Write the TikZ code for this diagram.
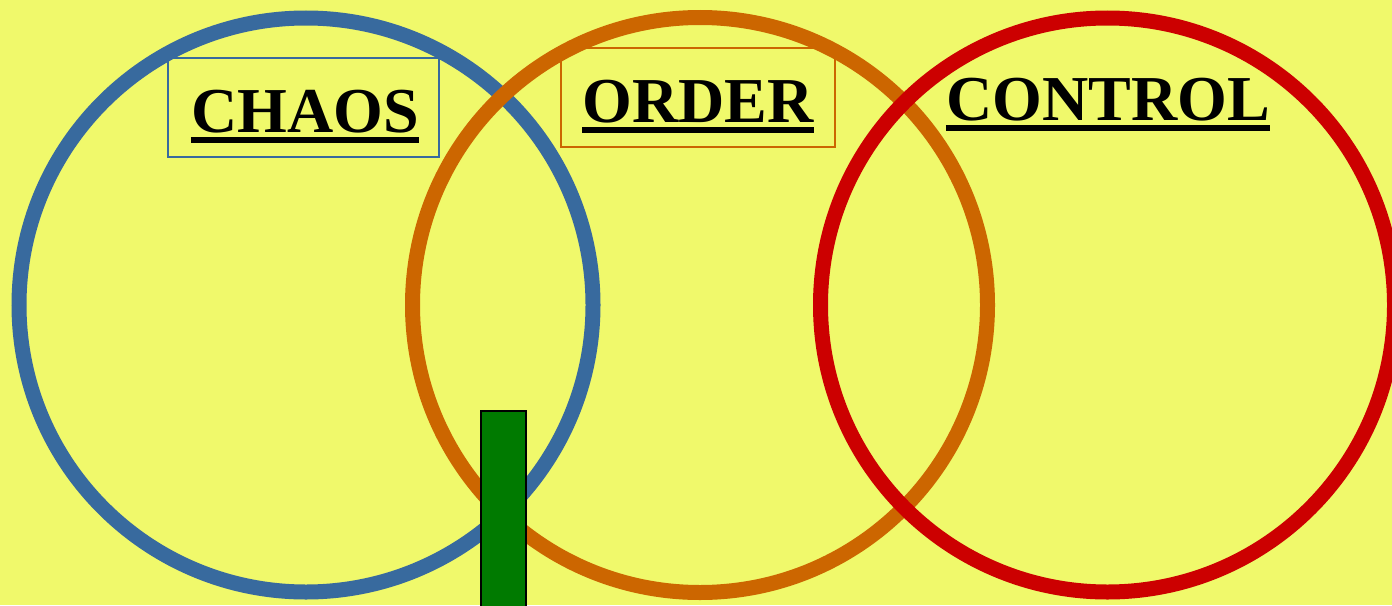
\documentclass[tikz,border=0pt]{standalone}
\usepackage{fontspec}
\setmainfont{Liberation Serif}
\definecolor{bgyellow}{HTML}{F0F96B}
\definecolor{chaosblue}{HTML}{386A9E}
\definecolor{orderorange}{HTML}{CC6600}
\definecolor{controlred}{HTML}{CC0000}
\definecolor{bargreen}{HTML}{007A00}
\tikzset{
    ring/.style={line width=7.5pt},
    title/.style={inner sep=0pt, anchor=base, font=\fontsize{32}{38}\selectfont\bfseries},
    ul/.style={line width=2.8pt},
    frame/.style={line width=1pt, minimum height=49.5pt, inner sep=0pt}
}
\begin{document}
\begin{tikzpicture}[x=0.5pt, y=-0.5pt]
            \useasboundingbox[fill=bgyellow] (0,0) rectangle (1392,605);
            \draw[ring, chaosblue] (306,305) circle (143.5pt);
            \draw[ring, orderorange] (700,305) circle (143.75pt);
            \draw[ring, controlred] (1107.5,305) circle (143.5pt); % 红圈在最上层
            \node[frame, draw=chaosblue, minimum width=135.5pt] (chaosbox) at (303.5,107.5) {};
            \node[frame, draw=orderorange, minimum width=137pt] (orderbox) at (697.5,97) {};
            \node[title] (chaos) at (305,132) {CHAOS};
            \node[title] (order) at (698,122) {ORDER};
            \node[title] (control) at (1108,120) {CONTROL};
            \foreach \w in {chaos, order, control}
            \draw[ul] ([yshift=-4pt]\w.base west) -- ([yshift=-4pt]\w.base east); % 下划线
            \node[draw=black, line width=1pt, fill=bargreen, minimum width=22.5pt, minimum height=98pt, inner sep=0pt, anchor=north west] (bar) at (480,410) {};
        \end{tikzpicture}
\end{document}
